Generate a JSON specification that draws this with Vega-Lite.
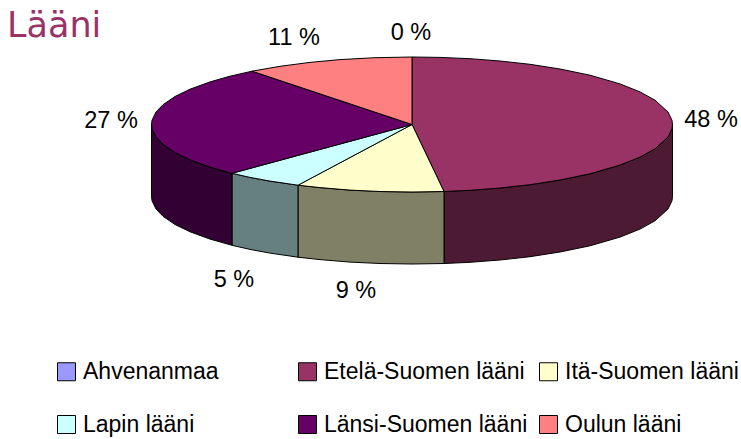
{"$schema":"https://vega.github.io/schema/vega-lite/v6.json","width":741,"height":439,"padding":0,"autosize":{"type":"none"},"background":"white","view":{"stroke":null},
"title":{"text":"Lääni","anchor":"start","frame":"group","orient":"top","offset":-44,"dx":7,"font":"DejaVu Sans","fontSize":35,"fontWeight":"normal","color":"#993366"},
"datasets":{
"side":[
{"slice":"Etelä-Suomen lääni","i":1,"x":444,"y":191.5},{"slice":"Etelä-Suomen lääni","i":2,"x":470,"y":190.3},{"slice":"Etelä-Suomen lääni","i":3,"x":500,"y":188},{"slice":"Etelä-Suomen lääni","i":4,"x":530,"y":184.7},{"slice":"Etelä-Suomen lääni","i":5,"x":560,"y":180},{"slice":"Etelä-Suomen lääni","i":6,"x":590,"y":173.8},{"slice":"Etelä-Suomen lääni","i":7,"x":620,"y":165.1},{"slice":"Etelä-Suomen lääni","i":8,"x":640,"y":157.1},{"slice":"Etelä-Suomen lääni","i":9,"x":655,"y":148.8},{"slice":"Etelä-Suomen lääni","i":10,"x":668,"y":137},{"slice":"Etelä-Suomen lääni","i":11,"x":672,"y":128.7},{"slice":"Etelä-Suomen lääni","i":12,"x":672.5,"y":124.5},{"slice":"Etelä-Suomen lääni","i":13,"x":672.5,"y":196.5},{"slice":"Etelä-Suomen lääni","i":14,"x":672,"y":200.7},{"slice":"Etelä-Suomen lääni","i":15,"x":668,"y":209},{"slice":"Etelä-Suomen lääni","i":16,"x":655,"y":220.8},{"slice":"Etelä-Suomen lääni","i":17,"x":640,"y":229.1},{"slice":"Etelä-Suomen lääni","i":18,"x":620,"y":237.1},{"slice":"Etelä-Suomen lääni","i":19,"x":590,"y":245.8},{"slice":"Etelä-Suomen lääni","i":20,"x":560,"y":252},{"slice":"Etelä-Suomen lääni","i":21,"x":530,"y":256.7},{"slice":"Etelä-Suomen lääni","i":22,"x":500,"y":260},{"slice":"Etelä-Suomen lääni","i":23,"x":470,"y":262.3},{"slice":"Etelä-Suomen lääni","i":24,"x":444,"y":263.5},{"slice":"Etelä-Suomen lääni","i":25,"x":444,"y":191.5},
{"slice":"Itä-Suomen lääni","i":1,"x":298,"y":185.2},{"slice":"Itä-Suomen lääni","i":2,"x":320,"y":187.6},{"slice":"Itä-Suomen lääni","i":3,"x":350,"y":190.1},{"slice":"Itä-Suomen lääni","i":4,"x":380,"y":191.5},{"slice":"Itä-Suomen lääni","i":5,"x":412,"y":192},{"slice":"Itä-Suomen lääni","i":6,"x":444,"y":191.5},{"slice":"Itä-Suomen lääni","i":7,"x":444,"y":263.5},{"slice":"Itä-Suomen lääni","i":8,"x":412,"y":264},{"slice":"Itä-Suomen lääni","i":9,"x":380,"y":263.5},{"slice":"Itä-Suomen lääni","i":10,"x":350,"y":262.1},{"slice":"Itä-Suomen lääni","i":11,"x":320,"y":259.6},{"slice":"Itä-Suomen lääni","i":12,"x":298,"y":257.2},{"slice":"Itä-Suomen lääni","i":13,"x":298,"y":185.2},
{"slice":"Lapin lääni","i":1,"x":232,"y":173.3},{"slice":"Lapin lääni","i":2,"x":250,"y":177.4},{"slice":"Lapin lääni","i":3,"x":270,"y":181.1},{"slice":"Lapin lääni","i":4,"x":298,"y":185.2},{"slice":"Lapin lääni","i":5,"x":298,"y":257.2},{"slice":"Lapin lääni","i":6,"x":270,"y":253.1},{"slice":"Lapin lääni","i":7,"x":250,"y":249.4},{"slice":"Lapin lääni","i":8,"x":232,"y":245.3},{"slice":"Lapin lääni","i":9,"x":232,"y":173.3},
{"slice":"Länsi-Suomen lääni","i":1,"x":151.5,"y":124.5},{"slice":"Länsi-Suomen lääni","i":2,"x":152,"y":128.7},{"slice":"Länsi-Suomen lääni","i":3,"x":156,"y":137},{"slice":"Länsi-Suomen lääni","i":4,"x":163,"y":144.3},{"slice":"Länsi-Suomen lääni","i":5,"x":175,"y":152.5},{"slice":"Länsi-Suomen lääni","i":6,"x":190,"y":159.8},{"slice":"Länsi-Suomen lääni","i":7,"x":210,"y":167.1},{"slice":"Länsi-Suomen lääni","i":8,"x":232,"y":173.3},{"slice":"Länsi-Suomen lääni","i":9,"x":232,"y":245.3},{"slice":"Länsi-Suomen lääni","i":10,"x":210,"y":239.1},{"slice":"Länsi-Suomen lääni","i":11,"x":190,"y":231.8},{"slice":"Länsi-Suomen lääni","i":12,"x":175,"y":224.5},{"slice":"Länsi-Suomen lääni","i":13,"x":163,"y":216.3},{"slice":"Länsi-Suomen lääni","i":14,"x":156,"y":209},{"slice":"Länsi-Suomen lääni","i":15,"x":152,"y":200.7},{"slice":"Länsi-Suomen lääni","i":16,"x":151.5,"y":196.5},{"slice":"Länsi-Suomen lääni","i":17,"x":151.5,"y":124.5}
],
"top":[
{"slice":"Ahvenanmaa","i":1,"x":412,"y":124.5},{"slice":"Ahvenanmaa","i":2,"x":412,"y":57},
{"slice":"Etelä-Suomen lääni","i":1,"x":412,"y":124.5},{"slice":"Etelä-Suomen lääni","i":2,"x":412,"y":57},{"slice":"Etelä-Suomen lääni","i":3,"x":440,"y":57.4},{"slice":"Etelä-Suomen lääni","i":4,"x":470,"y":58.7},{"slice":"Etelä-Suomen lääni","i":5,"x":500,"y":61},{"slice":"Etelä-Suomen lääni","i":6,"x":530,"y":64.3},{"slice":"Etelä-Suomen lääni","i":7,"x":560,"y":69},{"slice":"Etelä-Suomen lääni","i":8,"x":590,"y":75.2},{"slice":"Etelä-Suomen lääni","i":9,"x":620,"y":83.9},{"slice":"Etelä-Suomen lääni","i":10,"x":640,"y":91.9},{"slice":"Etelä-Suomen lääni","i":11,"x":655,"y":100.2},{"slice":"Etelä-Suomen lääni","i":12,"x":668,"y":112},{"slice":"Etelä-Suomen lääni","i":13,"x":672,"y":120.3},{"slice":"Etelä-Suomen lääni","i":14,"x":672.5,"y":124.5},{"slice":"Etelä-Suomen lääni","i":15,"x":672,"y":128.7},{"slice":"Etelä-Suomen lääni","i":16,"x":668,"y":137},{"slice":"Etelä-Suomen lääni","i":17,"x":655,"y":148.8},{"slice":"Etelä-Suomen lääni","i":18,"x":640,"y":157.1},{"slice":"Etelä-Suomen lääni","i":19,"x":620,"y":165.1},{"slice":"Etelä-Suomen lääni","i":20,"x":590,"y":173.8},{"slice":"Etelä-Suomen lääni","i":21,"x":560,"y":180},{"slice":"Etelä-Suomen lääni","i":22,"x":530,"y":184.7},{"slice":"Etelä-Suomen lääni","i":23,"x":500,"y":188},{"slice":"Etelä-Suomen lääni","i":24,"x":470,"y":190.3},{"slice":"Etelä-Suomen lääni","i":25,"x":444,"y":191.5},{"slice":"Etelä-Suomen lääni","i":26,"x":412,"y":124.5},
{"slice":"Itä-Suomen lääni","i":1,"x":412,"y":124.5},{"slice":"Itä-Suomen lääni","i":2,"x":444,"y":191.5},{"slice":"Itä-Suomen lääni","i":3,"x":412,"y":192},{"slice":"Itä-Suomen lääni","i":4,"x":380,"y":191.5},{"slice":"Itä-Suomen lääni","i":5,"x":350,"y":190.1},{"slice":"Itä-Suomen lääni","i":6,"x":320,"y":187.6},{"slice":"Itä-Suomen lääni","i":7,"x":298,"y":185.2},{"slice":"Itä-Suomen lääni","i":8,"x":412,"y":124.5},
{"slice":"Lapin lääni","i":1,"x":412,"y":124.5},{"slice":"Lapin lääni","i":2,"x":298,"y":185.2},{"slice":"Lapin lääni","i":3,"x":270,"y":181.1},{"slice":"Lapin lääni","i":4,"x":250,"y":177.4},{"slice":"Lapin lääni","i":5,"x":232,"y":173.3},{"slice":"Lapin lääni","i":6,"x":412,"y":124.5},
{"slice":"Länsi-Suomen lääni","i":1,"x":412,"y":124.5},{"slice":"Länsi-Suomen lääni","i":2,"x":232,"y":173.3},{"slice":"Länsi-Suomen lääni","i":3,"x":210,"y":167.1},{"slice":"Länsi-Suomen lääni","i":4,"x":190,"y":159.8},{"slice":"Länsi-Suomen lääni","i":5,"x":175,"y":152.5},{"slice":"Länsi-Suomen lääni","i":6,"x":163,"y":144.3},{"slice":"Länsi-Suomen lääni","i":7,"x":156,"y":137},{"slice":"Länsi-Suomen lääni","i":8,"x":152,"y":128.7},{"slice":"Länsi-Suomen lääni","i":9,"x":151.5,"y":124.5},{"slice":"Länsi-Suomen lääni","i":10,"x":152,"y":120.3},{"slice":"Länsi-Suomen lääni","i":11,"x":156,"y":112},{"slice":"Länsi-Suomen lääni","i":12,"x":163,"y":104.7},{"slice":"Länsi-Suomen lääni","i":13,"x":175,"y":96.5},{"slice":"Länsi-Suomen lääni","i":14,"x":190,"y":89.2},{"slice":"Länsi-Suomen lääni","i":15,"x":210,"y":81.9},{"slice":"Länsi-Suomen lääni","i":16,"x":230,"y":76.2},{"slice":"Länsi-Suomen lääni","i":17,"x":252,"y":71.2},{"slice":"Länsi-Suomen lääni","i":18,"x":412,"y":124.5},
{"slice":"Oulun lääni","i":1,"x":412,"y":124.5},{"slice":"Oulun lääni","i":2,"x":252,"y":71.2},{"slice":"Oulun lääni","i":3,"x":280,"y":66.3},{"slice":"Oulun lääni","i":4,"x":310,"y":62.4},{"slice":"Oulun lääni","i":5,"x":340,"y":59.6},{"slice":"Oulun lääni","i":6,"x":375,"y":57.7},{"slice":"Oulun lääni","i":7,"x":412,"y":57},{"slice":"Oulun lääni","i":8,"x":412,"y":124.5}
],
"labels":[
{"slice":"Ahvenanmaa","pct":"0 %","x":411,"y":33},
{"slice":"Etelä-Suomen lääni","pct":"48 %","x":711,"y":120},
{"slice":"Itä-Suomen lääni","pct":"9 %","x":356,"y":291},
{"slice":"Lapin lääni","pct":"5 %","x":234,"y":280},
{"slice":"Länsi-Suomen lääni","pct":"27 %","x":111,"y":121},
{"slice":"Oulun lääni","pct":"11 %","x":294,"y":38}
]},
"encoding":{
"x":{"field":"x","type":"quantitative","axis":null,"scale":{"domain":[0,741],"nice":false,"zero":false}},
"y":{"field":"y","type":"quantitative","axis":null,"scale":{"domain":[439,0],"nice":false,"zero":false}}
},
"layer":[
{"data":{"name":"side"},"mark":{"type":"line","stroke":"black","strokeWidth":1,"interpolate":"linear","clip":false},
"encoding":{"order":{"field":"i","type":"quantitative"},"detail":{"field":"slice"},
"fill":{"field":"slice","type":"nominal","legend":null,"scale":{"domain":["Ahvenanmaa","Etelä-Suomen lääni","Itä-Suomen lääni","Lapin lääni","Länsi-Suomen lääni","Oulun lääni"],"range":["#4D4D80","#4D1A33","#808066","#668080","#330033","#804040"]}}}},
{"data":{"name":"top"},"mark":{"type":"line","stroke":"black","strokeWidth":1,"interpolate":"linear"},
"encoding":{"order":{"field":"i","type":"quantitative"},"detail":{"field":"slice"},
"fill":{"field":"slice","type":"nominal","scale":{"domain":["Ahvenanmaa","Etelä-Suomen lääni","Itä-Suomen lääni","Lapin lääni","Länsi-Suomen lääni","Oulun lääni"],"range":["#9999FF","#993366","#FFFFCC","#CCFFFF","#660066","#FF8080"]},
"legend":{"title":null,"orient":"none","legendX":55,"legendY":360,"direction":"horizontal","columns":3,"gridAlign":"all","symbolType":"square","symbolSize":324,"symbolStrokeColor":"black","symbolStrokeWidth":1,"symbolOpacity":1,"labelFont":"Liberation Sans","labelFontSize":23,"labelColor":"black","labelOffset":5,"columnPadding":9,"rowPadding":29,"labelLimit":300}}}},
{"data":{"name":"labels"},"mark":{"type":"text","font":"Liberation Sans","fontSize":23.5,"color":"black","align":"center","baseline":"middle"},
"encoding":{"text":{"field":"pct","type":"nominal"}}}
],
"resolve":{"scale":{"fill":"independent"}}
}
